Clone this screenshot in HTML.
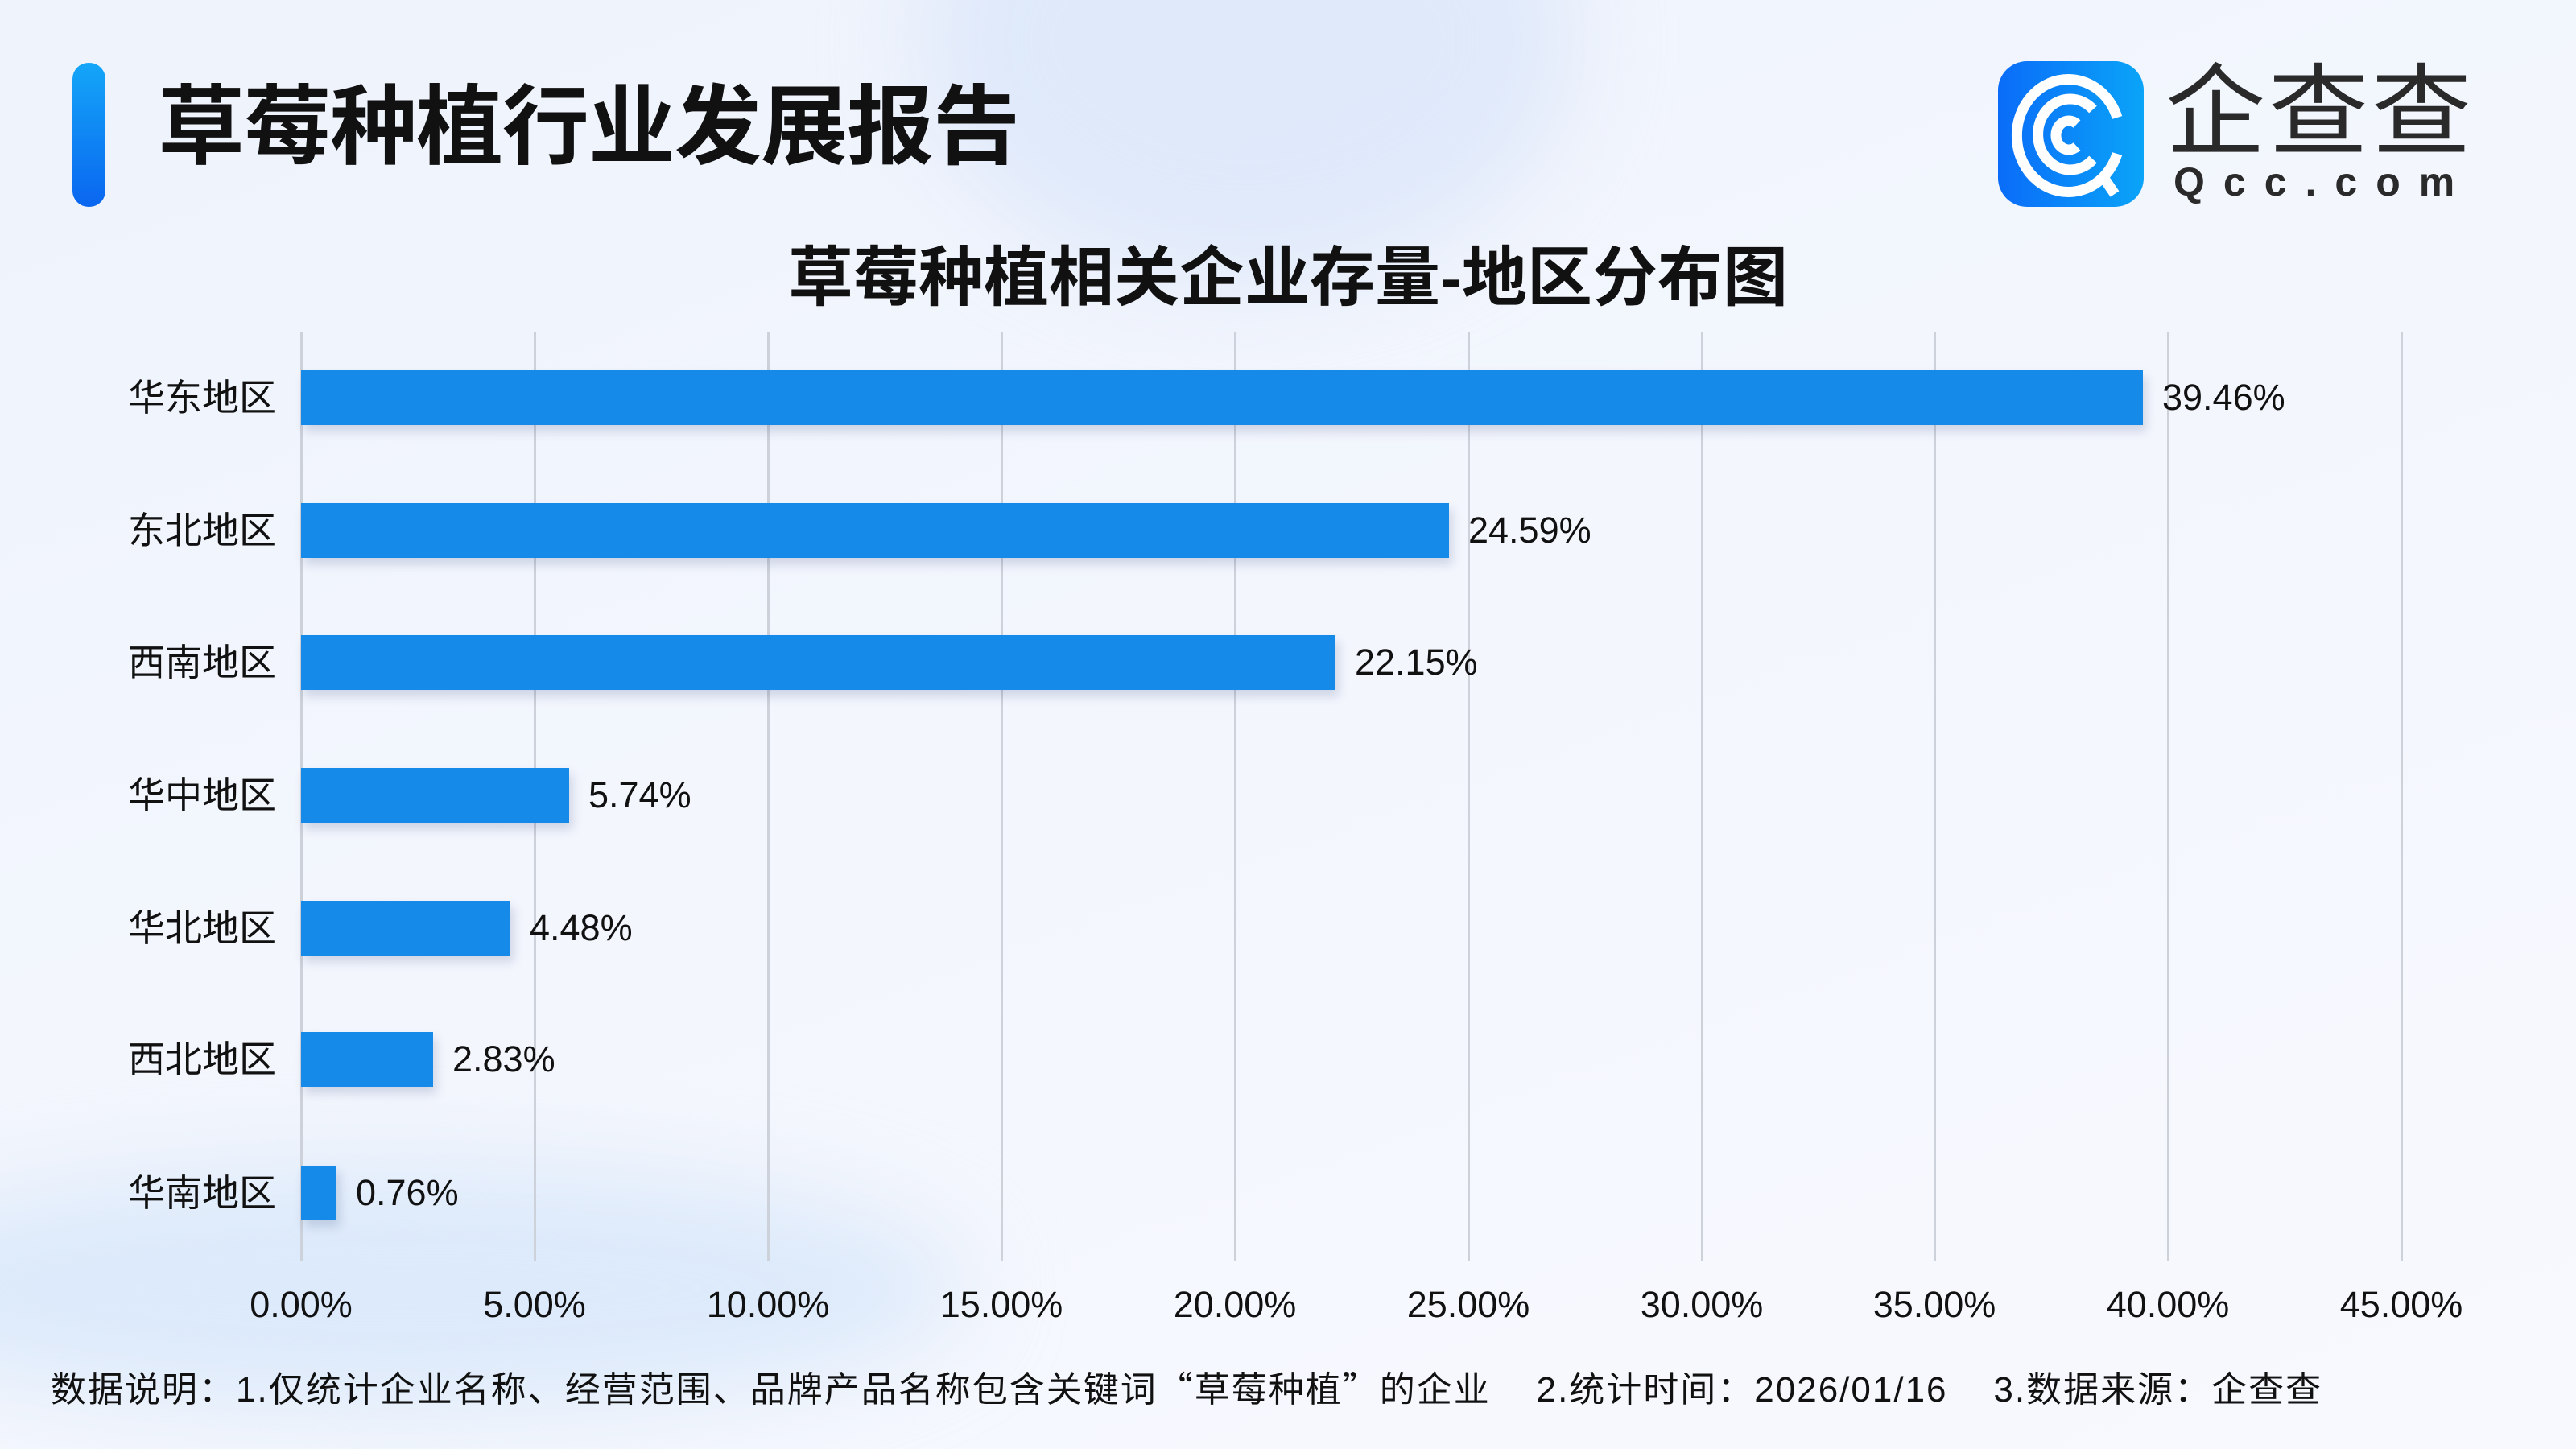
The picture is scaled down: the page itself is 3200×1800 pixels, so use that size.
<!DOCTYPE html>
<html style="width:3200px;height:1800px;overflow:hidden"><head><meta charset="utf-8"><style>
*{margin:0;padding:0;box-sizing:border-box}
body{width:3200px;height:1800px;overflow:hidden;position:relative;font-family:"Liberation Sans","Noto Sans CJK SC",sans-serif;color:#111;
background:linear-gradient(160deg,#eef3fc 0%,#f3f6fd 45%,#f7f9fe 100%);}
.clip{position:absolute;left:0;top:0;width:3200px;height:1800px;overflow:hidden}
.blob{position:absolute;border-radius:50%;filter:blur(60px)}
.abs{position:absolute;white-space:nowrap}
.grid{position:absolute;top:412px;height:1155px;width:3px;background:#cdd1da}
.bar{position:absolute;height:68px;background:#168ae9;left:374px;box-shadow:4px 8px 12px rgba(40,60,120,0.18)}
.cat{position:absolute;right:2857px;font-size:46px;line-height:68px;color:#111}
.val{position:absolute;font-size:45px;line-height:68px;color:#111}
.tick{position:absolute;top:1595px;font-size:45px;width:300px;text-align:center;color:#111}
</style></head><body>
<div class="clip">
<div class="blob" style="left:1150px;top:-250px;width:800px;height:600px;background:rgba(215,228,250,0.7)"></div>
<div class="blob" style="left:-200px;top:1450px;width:1400px;height:300px;background:rgba(210,228,250,0.7)"></div>
</div>

<div class="abs" style="left:90px;top:78px;width:41px;height:179px;border-radius:20px;background:linear-gradient(180deg,#14a6f8,#0a66f0)"></div>
<div class="abs" style="left:196px;top:88px;font-size:108px;font-weight:bold;letter-spacing:-1px;line-height:140px">草莓种植行业发展报告</div>

<div class="abs" style="left:2482px;top:76px;width:181px;height:181px;border-radius:36px;background:linear-gradient(90deg,#0a6cf8,#0aa4f8)">
<svg width="181" height="181" viewBox="0 0 181 181"><g fill="none" stroke="#fff" stroke-width="13" stroke-linecap="butt">
<path d="M148 115 A64 70 0 1 1 148 70"/><path d="M118 60 A40 44 0 1 0 118 122"/><path d="M98 78 A16 18 0 1 0 98 106"/><path d="M128 140 L145 165"/></g></svg></div>
<div class="abs" style="left:2690px;top:70px;font-size:124px;line-height:140px;color:#2a2a2a;letter-spacing:4px">企查查</div>
<div class="abs" style="left:2700px;top:196px;font-size:50px;line-height:60px;color:#2a2a2a;letter-spacing:23px;font-weight:bold">Qcc.com</div>

<div class="abs" style="left:0;width:3200px;text-align:center;top:296px;font-size:81px;font-weight:bold;line-height:100px">草莓种植相关企业存量-地区分布图</div>

<div class="grid" style="left:373px"></div><div class="grid" style="left:663px"></div><div class="grid" style="left:953px"></div>
<div class="grid" style="left:1243px"></div><div class="grid" style="left:1533px"></div><div class="grid" style="left:1823px"></div>
<div class="grid" style="left:2113px"></div><div class="grid" style="left:2402px"></div><div class="grid" style="left:2692px"></div>
<div class="grid" style="left:2982px"></div>

<div class="bar" style="top:460px;width:2288px"></div><div class="cat" style="top:460px">华东地区</div><div class="val" style="top:460px;left:2686px">39.46%</div>
<div class="bar" style="top:625px;width:1426px"></div><div class="cat" style="top:625px">东北地区</div><div class="val" style="top:625px;left:1824px">24.59%</div>
<div class="bar" style="top:789px;width:1285px"></div><div class="cat" style="top:789px">西南地区</div><div class="val" style="top:789px;left:1683px">22.15%</div>
<div class="bar" style="top:954px;width:333px"></div><div class="cat" style="top:954px">华中地区</div><div class="val" style="top:954px;left:731px">5.74%</div>
<div class="bar" style="top:1119px;width:260px"></div><div class="cat" style="top:1119px">华北地区</div><div class="val" style="top:1119px;left:658px">4.48%</div>
<div class="bar" style="top:1282px;width:164px"></div><div class="cat" style="top:1282px">西北地区</div><div class="val" style="top:1282px;left:562px">2.83%</div>
<div class="bar" style="top:1448px;width:44px"></div><div class="cat" style="top:1448px">华南地区</div><div class="val" style="top:1448px;left:442px">0.76%</div>

<div class="tick" style="left:224px">0.00%</div><div class="tick" style="left:514px">5.00%</div><div class="tick" style="left:804px">10.00%</div>
<div class="tick" style="left:1094px">15.00%</div><div class="tick" style="left:1384px">20.00%</div><div class="tick" style="left:1674px">25.00%</div>
<div class="tick" style="left:1964px">30.00%</div><div class="tick" style="left:2253px">35.00%</div><div class="tick" style="left:2543px">40.00%</div>
<div class="tick" style="left:2833px">45.00%</div>

<div class="abs" style="left:63px;top:1692px;font-size:44px;line-height:60px;letter-spacing:2px">数据说明：1.仅统计企业名称、经营范围、品牌产品名称包含关键词<span style="font-family:'Noto Sans CJK SC',sans-serif">“</span>草莓种植<span style="font-family:'Noto Sans CJK SC',sans-serif">”</span>的企业&nbsp;&nbsp;&nbsp;&nbsp;2.统计时间：2026/01/16&nbsp;&nbsp;&nbsp;&nbsp;3.数据来源：企查查</div>
</body></html>
